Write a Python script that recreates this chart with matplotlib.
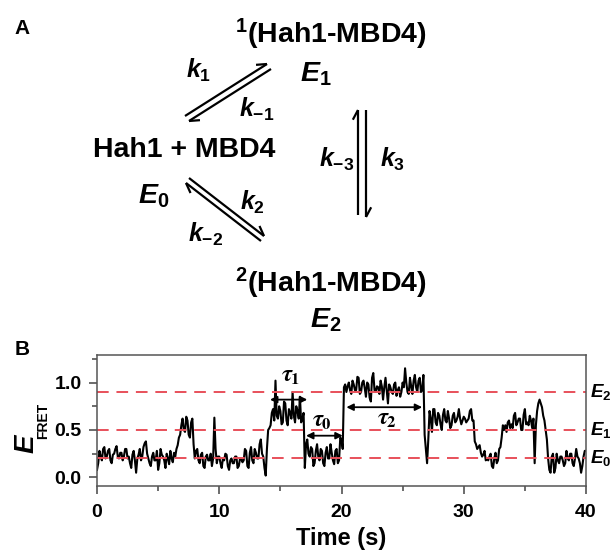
import numpy as np
import matplotlib
matplotlib.use("Agg")
import matplotlib.pyplot as plt

plt.rcParams['font.family'] = ['Liberation Sans', 'DejaVu Sans']
plt.rcParams['font.weight'] = 'bold'
plt.rcParams['mathtext.fontset'] = 'custom'
plt.rcParams['mathtext.it'] = 'Liberation Sans:italic:bold'
plt.rcParams['mathtext.rm'] = 'Liberation Sans:bold'
plt.rcParams['mathtext.bf'] = 'Liberation Sans:bold'

# FRET trace, one value every 0.1 s
dt = 0.1
efret = np.array([
    0.08, 0.15, 0.28, 0.22, 0.18, 0.30, 0.32, 0.20, 0.22, 0.28, 0.30, 0.18, 0.15, 0.24, 0.25, 0.30, 0.33, 0.22, 0.20, 0.26,
    0.26, 0.18, 0.22, 0.30, 0.30, 0.20, 0.22, 0.15, 0.10, 0.24, 0.28, 0.18, 0.05, 0.20, 0.24, 0.30, 0.18, 0.22, 0.32, 0.36,
    0.38, 0.25, 0.20, 0.15, 0.12, 0.22, 0.26, 0.18, 0.18, 0.28, 0.08, 0.15, 0.30, 0.24, 0.22, 0.18, 0.10, 0.25, 0.20, 0.14,
    0.28, 0.20, 0.16, 0.26, 0.22, 0.30, 0.34, 0.42, 0.45, 0.55, 0.62, 0.50, 0.48, 0.64, 0.60, 0.45, 0.42, 0.58, 0.62, 0.35,
    0.20, 0.28, 0.30, 0.18, 0.15, 0.24, 0.26, 0.12, 0.10, 0.22, 0.24, 0.18, 0.18, 0.25, 0.12, 0.20, 0.63, 0.30, 0.15, 0.22,
    0.22, 0.15, 0.10, 0.20, 0.18, 0.25, 0.24, 0.12, 0.08, 0.18, 0.20, 0.15, 0.15, 0.22, 0.22, 0.10, 0.12, 0.20, 0.20, 0.16,
    0.18, 0.30, 0.28, 0.12, 0.10, 0.26, 0.32, 0.18, 0.15, 0.30, 0.26, 0.20, 0.20, 0.35, 0.40, 0.25, 0.22, 0.10, 0.02, 0.30,
    0.50, 0.52, 0.55, 0.68, 0.72, 0.60, 1.02, 0.65, 0.62, 0.75, 0.70, 0.56, 0.58, 0.80, 0.78, 0.60, 0.55, 0.72, 0.68, 0.62,
    0.90, 0.65, 0.58, 0.75, 0.70, 0.62, 0.85, 0.58, 0.62, 0.68, 0.10, 0.35, 0.40, 0.25, 0.22, 0.32, 0.30, 0.12, 0.15, 0.28,
    0.35, 0.22, 0.18, 0.30, 0.28, 0.15, 0.12, 0.26, 0.32, 0.20, 0.20, 0.35, 0.26, 0.18, 0.14, 0.28, 0.30, 0.15, 0.18, 0.42,
    0.40, 0.30, 0.95, 0.98, 0.90, 0.96, 1.00, 0.92, 0.88, 1.02, 0.98, 0.92, 0.92, 1.06, 1.05, 0.88, 0.90, 1.00, 1.02, 0.94,
    0.85, 1.00, 0.98, 0.84, 0.80, 1.05, 1.10, 0.92, 0.90, 0.96, 0.95, 0.88, 1.02, 0.96, 0.82, 0.95, 1.05, 0.92, 0.78, 0.98,
    0.95, 0.90, 0.88, 0.98, 1.00, 0.86, 0.92, 0.95, 0.85, 0.90, 1.00, 0.95, 1.15, 1.00, 0.90, 0.88, 1.05, 0.96, 0.88, 1.02,
    1.08, 0.95, 0.90, 1.02, 1.05, 0.90, 0.92, 1.08, 0.45, 0.30, 0.15, 0.40, 0.70, 0.62, 0.48, 0.72, 0.72, 0.58, 0.55, 0.68,
    0.65, 0.56, 0.50, 0.66, 0.72, 0.60, 0.58, 0.70, 0.62, 0.52, 0.55, 0.65, 0.68, 0.58, 0.60, 0.64, 0.72, 0.62, 0.56, 0.60,
    0.64, 0.62, 0.58, 0.60, 0.62, 0.70, 0.72, 0.60, 0.60, 0.38, 0.35, 0.30, 0.32, 0.34, 0.26, 0.22, 0.24, 0.28, 0.18, 0.20,
    0.18, 0.22, 0.25, 0.12, 0.10, 0.20, 0.26, 0.15, 0.18, 0.30, 0.32, 0.42, 0.55, 0.50, 0.55, 0.48, 0.58, 0.60, 0.52, 0.56,
    0.52, 0.65, 0.68, 0.55, 0.58, 0.62, 0.62, 0.50, 0.50, 0.66, 0.72, 0.56, 0.58, 0.55, 0.65, 0.60, 0.52, 0.62, 0.15, 0.55,
    0.70, 0.78, 0.82, 0.78, 0.74, 0.65, 0.60, 0.50, 0.40, 0.20, 0.08, 0.05, 0.22, 0.25, 0.05, 0.10, 0.25, 0.18, 0.15, 0.22,
    0.22, 0.18, 0.12, 0.15, 0.28, 0.20, 0.18, 0.25, 0.25, 0.15, 0.12, 0.20, 0.30, 0.22, 0.20, 0.15, 0.05, 0.12, 0.22, 0.28,
    0.28,
])
time = np.arange(len(efret)) * dt

levels = [0.2, 0.5, 0.9]
level_names = ['$E_0$', '$E_1$', '$E_2$']

# dwell-time arrows: (start, end, height, label, label x, label y)
dwells = [
    (14.15, 17.2, 0.82, r'$\tau_1$', 15.8, 1.07),
    (17.1, 20.1, 0.44, r'$\tau_0$', 18.4, 0.60),
    (20.4, 26.6, 0.74, r'$\tau_2$', 23.7, 0.62),
]

W, H = 613, 550
fig = plt.figure(figsize=(W / 100, H / 100), dpi=100)

# ---------- panel A : reaction scheme, drawn in pixel coords ----------
ov = fig.add_axes([0, 0, 1, 1])
ov.set_xlim(0, W)
ov.set_ylim(H, 0)
ov.axis('off')


def harpoon(p0, p1, barb=11, ang=28):
    p0 = np.array(p0, float)
    p1 = np.array(p1, float)
    d = (p1 - p0) / np.hypot(*(p1 - p0))
    n = np.array([d[1], -d[0]])
    a = np.radians(ang)
    b = p1 + barb * (np.cos(a) * -d + np.sin(a) * n)
    ov.plot([p0[0], p1[0]], [p0[1], p1[1]], color='k', lw=1.6, solid_capstyle='butt')
    ov.plot([p1[0], b[0]], [p1[1], b[1]], color='k', lw=1.6, solid_capstyle='butt')


harpoon((185, 116), (267, 64))
harpoon((271, 69), (189, 121))
harpoon((189, 178), (264, 236))
harpoon((261, 241), (186, 183))
harpoon((358, 215), (358, 110))
harpoon((366, 110), (366, 217))

big = 20.5
kk = 18
ov.text(14, 34, 'A', fontsize=15, ha='left', va='baseline')
ov.text(235, 43, r'$^1$(Hah1-MBD4)', fontsize=big, ha='left', va='baseline')
ov.text(300, 82, r'$E_1$', fontsize=big, ha='left', va='baseline')
ov.text(186, 78, r'$k_1$', fontsize=kk, ha='left', va='baseline')
ov.text(239, 117, r'$k_{-1}$', fontsize=kk, ha='left', va='baseline')
ov.text(93, 157, 'Hah1 + MBD4', fontsize=big, ha='left', va='baseline')
ov.text(319, 167, r'$k_{-3}$', fontsize=kk, ha='left', va='baseline')
ov.text(380, 167, r'$k_3$', fontsize=kk, ha='left', va='baseline')
ov.text(138, 203, r'$E_0$', fontsize=big, ha='left', va='baseline')
ov.text(240, 210, r'$k_2$', fontsize=kk, ha='left', va='baseline')
ov.text(188, 242, r'$k_{-2}$', fontsize=kk, ha='left', va='baseline')
ov.text(235, 292, r'$^2$(Hah1-MBD4)', fontsize=big, ha='left', va='baseline')
ov.text(310, 327, r'$E_2$', fontsize=big, ha='left', va='baseline')
ov.text(15, 355, 'B', fontsize=15, ha='left', va='baseline')

# ---------- panel B : FRET trajectory ----------
x0, x1, y0, y1 = 97, 586, 355, 486
ax = fig.add_axes([x0 / W, 1 - y1 / H, (x1 - x0) / W, (y1 - y0) / H])
ax.plot(time, efret, color='k', lw=1.5)
for lv in levels:
    ax.axhline(lv, color='#e8505a', lw=1.4, dashes=(6, 4))

for s, e, h, lab, lx, ly in dwells:
    ax.annotate('', xy=(e, h), xytext=(s, h),
                arrowprops=dict(arrowstyle='<|-|>', color='k', lw=1.3,
                                mutation_scale=10, shrinkA=0, shrinkB=0))
    ax.text(lx, ly, lab, fontsize=17, ha='center', va='center', math_fontfamily='stix')

ax.set_xlim(0, 40)
ax.set_ylim(-0.09, 1.29)
ax.set_xticks([0, 10, 20, 30, 40])
ax.set_xticks([5, 15, 25, 35], minor=True)
ax.set_yticks([0.0, 0.5, 1.0])
ax.set_yticklabels(['0.0', '0.5', '1.0'])
ax.set_yticks([0.25, 0.75, 1.25], minor=True)
ax.tick_params(which='major', direction='out', length=6, width=1.1, labelsize=14, pad=5, color='#444444')
ax.tick_params(which='minor', direction='out', length=3.5, width=1.1, color='#444444')
ax.tick_params(axis='x', which='major', pad=7)
for sp in ax.spines.values():
    sp.set_color('#555555')
    sp.set_linewidth(1.1)

for lv, name in zip(levels, level_names):
    ax.text(1.008, lv, name, transform=ax.get_yaxis_transform(), fontsize=13.5,
            ha='left', va='center', clip_on=False)

ov.text(27, 444, 'E', fontsize=20, style='italic', rotation=90, ha='center', va='center')
ov.text(43, 421, 'FRET', fontsize=10, rotation=90, ha='center', va='center')
ov.text((x0 + x1) / 2, 538, 'Time (s)', fontsize=17, ha='center', va='center')

fig.savefig('out.png', dpi=100)
